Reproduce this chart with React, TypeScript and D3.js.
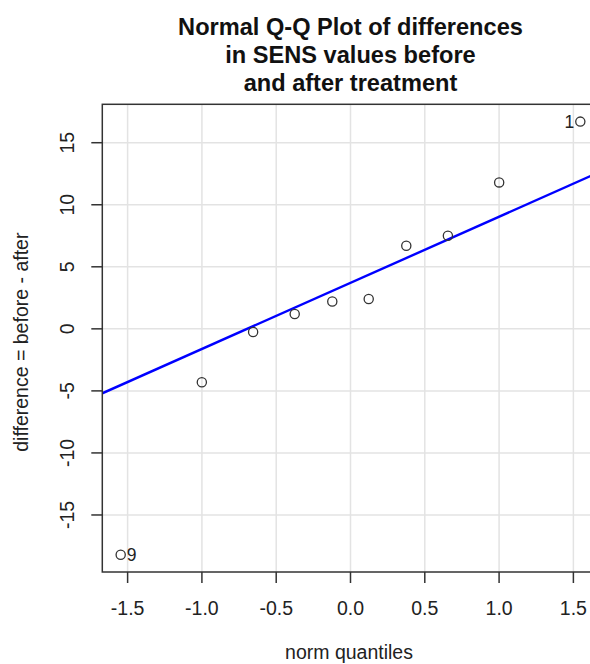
import React from "react";
import * as d3 from "d3";

// Differences (before - after) in SENS values, by subject
const subjectIds = ["1", "2", "3", "4", "5", "6", "7", "8", "9", "10"];
const differences = [16.7, 2.4, 7.5, -0.25, 11.8, 1.2, 6.7, 2.2, -18.2, -4.3];
const labelledIds = ["1", "9"];

const xTicks = [-1.5, -1.0, -0.5, 0.0, 0.5, 1.0, 1.5];
const yTicks = [-15, -10, -5, 0, 5, 10, 15];

const titleLines = [
  "Normal Q-Q Plot of differences",
  "in SENS values before",
  "and after treatment",
];
const xLabel = "norm quantiles";
const yLabel = "difference = before - after";

// Inverse standard normal CDF (Acklam's rational approximation)
function qnorm(p: number): number {
  const a = [-3.969683028665376e1, 2.209460984245205e2, -2.759285104469687e2, 1.38357751867269e2, -3.066479806614716e1, 2.506628277459239];
  const b = [-5.447609879822406e1, 1.615858368580409e2, -1.556989798598866e2, 6.680131188771972e1, -1.328068155288572e1];
  const c = [-7.784894002430293e-3, -3.223964580411365e-1, -2.400758277161838, -2.549732539343734, 4.374664141464968, 2.938163982698783];
  const d = [7.784695709041462e-3, 3.224671290700398e-1, 2.445134137142996, 3.754408661907416];
  const pl = 0.02425;
  if (p < pl) {
    const q = Math.sqrt(-2 * Math.log(p));
    return (((((c[0] * q + c[1]) * q + c[2]) * q + c[3]) * q + c[4]) * q + c[5]) /
      ((((d[0] * q + d[1]) * q + d[2]) * q + d[3]) * q + 1);
  }
  if (p > 1 - pl) {
    const q = Math.sqrt(-2 * Math.log(1 - p));
    return -(((((c[0] * q + c[1]) * q + c[2]) * q + c[3]) * q + c[4]) * q + c[5]) /
      ((((d[0] * q + d[1]) * q + d[2]) * q + d[3]) * q + 1);
  }
  const q = p - 0.5;
  const r = q * q;
  return (((((a[0] * r + a[1]) * r + a[2]) * r + a[3]) * r + a[4]) * r + a[5]) * q /
    (((((b[0] * r + b[1]) * r + b[2]) * r + b[3]) * r + b[4]) * r + 1);
}

const FONT = "'Liberation Sans', Arial, Helvetica, sans-serif";

export default function App() {
  const W = 590;
  const H = 664;
  const left = 102.3;
  const right = 598.7;
  const top = 104.3;
  const bottom = 572;

  const n = differences.length;
  const aa = n <= 10 ? 3 / 8 : 0.5;
  const order = d3.range(n).sort((i, j) => differences[i] - differences[j]);
  const points = order.map((idx, k) => ({
    id: subjectIds[idx],
    y: differences[idx],
    x: qnorm((k + 1 - aa) / (n + 1 - 2 * aa)),
  }));

  const pad = (ext: [number, number]) => {
    const r = ext[1] - ext[0];
    return [ext[0] - 0.04 * r, ext[1] + 0.04 * r];
  };
  const xDom = pad(d3.extent(points, (p) => p.x) as [number, number]);
  const yDom = pad(d3.extent(points, (p) => p.y) as [number, number]);

  const x = d3.scaleLinear().domain(xDom).range([left, right]);
  const y = d3.scaleLinear().domain(yDom).range([bottom, top]);

  // Reference line through the quartiles
  const sorted = points.map((p) => p.y);
  const q1 = d3.quantile(sorted, 0.25)!;
  const q3 = d3.quantile(sorted, 0.75)!;
  const z1 = qnorm(0.25);
  const z3 = qnorm(0.75);
  const slope = (q3 - q1) / (z3 - z1);
  const intercept = q1 - slope * z1;
  const lineGen = d3.line<number>().x((v) => x(v)).y((v) => y(intercept + slope * v));

  const gridColor = "#e3e3e3";
  const axisColor = "#333";
  const fs = 19.5;

  return (
    <svg width={W} height={H} style={{ position: "absolute", left: 0, top: 0, background: "#fff" }} fontFamily={FONT}>
      <defs>
        <clipPath id="plot-area">
          <rect x={left} y={top} width={right - left} height={bottom - top} />
        </clipPath>
      </defs>
      {/* grid */}
      {xTicks.map((t) => (
        <line key={"gx" + t} x1={x(t)} x2={x(t)} y1={top} y2={bottom} stroke={gridColor} strokeWidth={1.5} />
      ))}
      {yTicks.map((t) => (
        <line key={"gy" + t} x1={left} x2={right} y1={y(t)} y2={y(t)} stroke={gridColor} strokeWidth={1.5} />
      ))}
      {/* quartile line */}
      <path
        d={lineGen(xDom) || ""}
        stroke="#0000ff"
        strokeWidth={2.4}
        fill="none"
        clipPath="url(#plot-area)"
      />
      {/* points */}
      {points.map((p) => (
        <circle key={"pt" + p.id} cx={x(p.x)} cy={y(p.y)} r={4.6} fill="none" stroke={axisColor} strokeWidth={1.3} />
      ))}
      {points
        .filter((p) => labelledIds.includes(p.id))
        .map((p) => {
          const onLeft = p.x > 0;
          return (
            <text
              key={"lb" + p.id}
              x={x(p.x) + (onLeft ? -6 : 6)}
              y={y(p.y)}
              dy="0.36em"
              textAnchor={onLeft ? "end" : "start"}
              fontSize={17.5}
              fill="#222"
            >
              {p.id}
            </text>
          );
        })}
      {/* box */}
      <rect x={left} y={top} width={right - left} height={bottom - top} fill="none" stroke={axisColor} strokeWidth={1.5} />
      {/* x axis */}
      {xTicks.map((t) => (
        <g key={"xt" + t}>
          <line x1={x(t)} x2={x(t)} y1={bottom} y2={bottom + 11} stroke={axisColor} strokeWidth={1.5} />
          <text x={x(t)} y={608} dy="0.36em" textAnchor="middle" fontSize={fs} fill="#222">
            {t.toFixed(1)}
          </text>
        </g>
      ))}
      {/* y axis */}
      {yTicks.map((t) => (
        <g key={"yt" + t}>
          <line x1={left - 11} x2={left} y1={y(t)} y2={y(t)} stroke={axisColor} strokeWidth={1.5} />
          <text
            transform={`translate(67,${y(t)}) rotate(-90)`}
            dy="0.36em"
            textAnchor="middle"
            fontSize={fs}
            fill="#222"
          >
            {String(t)}
          </text>
        </g>
      ))}
      {/* axis titles */}
      <text x={349} y={659} textAnchor="middle" fontSize={fs} fill="#222">
        {xLabel}
      </text>
      <text
        transform={`translate(21,${(top + bottom) / 2 + 4}) rotate(-90)`}
        dy="0.36em"
        textAnchor="middle"
        fontSize={fs}
        fill="#222"
      >
        {yLabel}
      </text>
      {/* title */}
      {titleLines.map((s, i) => (
        <text
          key={"tl" + i}
          x={350.5}
          y={27 + i * 28}
          dy="0.36em"
          textAnchor="middle"
          fontSize={23.6}
          fontWeight="bold"
          fill="#111"
        >
          {s}
        </text>
      ))}
    </svg>
  );
}
